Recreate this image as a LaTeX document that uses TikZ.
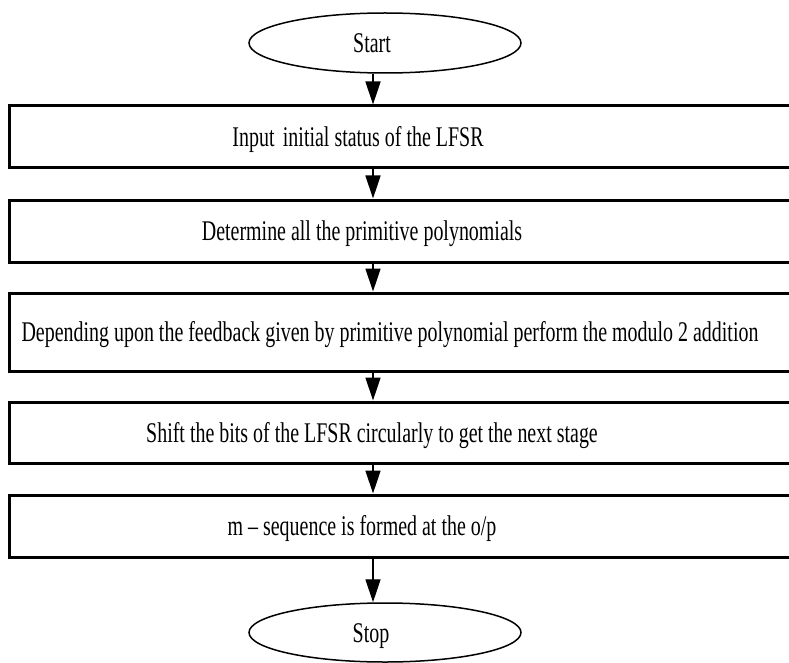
\documentclass[tikz,border=0pt]{standalone}
\usepackage{fontspec}
\setmainfont[FakeStretch=0.70]{Liberation Serif}
\usetikzlibrary{shapes.geometric,arrows.meta}
\begin{document}
\begin{tikzpicture}[x=1pt,y=-1pt,
 term/.style={draw,ellipse,line width=1.5pt,minimum width=272pt,inner sep=0pt},
 box/.style={draw,rectangle,line width=3pt,inner sep=0pt,minimum width=811pt},
 lbl/.style={anchor=base,font=\fontsize{28.5}{30}\selectfont,inner sep=0pt},
 arr/.style={line width=1.4pt,-{Triangle[length=23pt,width=15pt]}}]
\useasboundingbox (0,0) rectangle (789,663);
\clip (0,0) rectangle (789,663);
\coordinate (ax) at (373,0);
% terminals
\node[term,minimum height=60pt] (start) at (385,43) {};
\node[term,minimum height=59pt] (stop) at (385,632.5) {};
% process boxes
\node[box,minimum height=62pt] (b1) at (414.5,137) {};
\node[box,minimum height=62pt] (b2) at (414.5,231) {};
\node[box,minimum height=78pt] (b3) at (414.5,332) {};
\node[box,minimum height=61pt] (b4) at (414.5,432.5) {};
\node[box,minimum height=62pt] (b5) at (414.5,526) {};
% texts
\node[lbl] (tstart) at (372,52.5) {Start};
\node[lbl] (t1) at (358,146.5) {Input\hspace{0.12em} initial status of the LFSR};
\node[lbl] (t2) at (362,240.5) {Determine all the primitive polynomials};
\node[lbl] (t3) at (390,341.5) {Depending upon the feedback given by primitive polynomial perform the modulo 2 addition};
\node[lbl] (t4) at (372,442) {Shift the bits of the LFSR circularly to get the next stage};
\node[lbl] (t5) at (362,535.5) {m -- sequence is formed at the o/p};
\node[lbl] (tstop) at (371,642) {Stop};
% connectors
\draw[arr] (start.south -| ax) -- (b1.north -| ax);
\draw[arr] (b1.south -| ax) -- (b2.north -| ax);
\draw[arr] (b2.south -| ax) -- (b3.north -| ax);
\draw[arr] (b3.south -| ax) -- (b4.north -| ax);
\draw[arr] (b4.south -| ax) -- (b5.north -| ax);
\draw[arr] (b5.south -| ax) -- (stop.north -| ax);
\end{tikzpicture}
\end{document}
